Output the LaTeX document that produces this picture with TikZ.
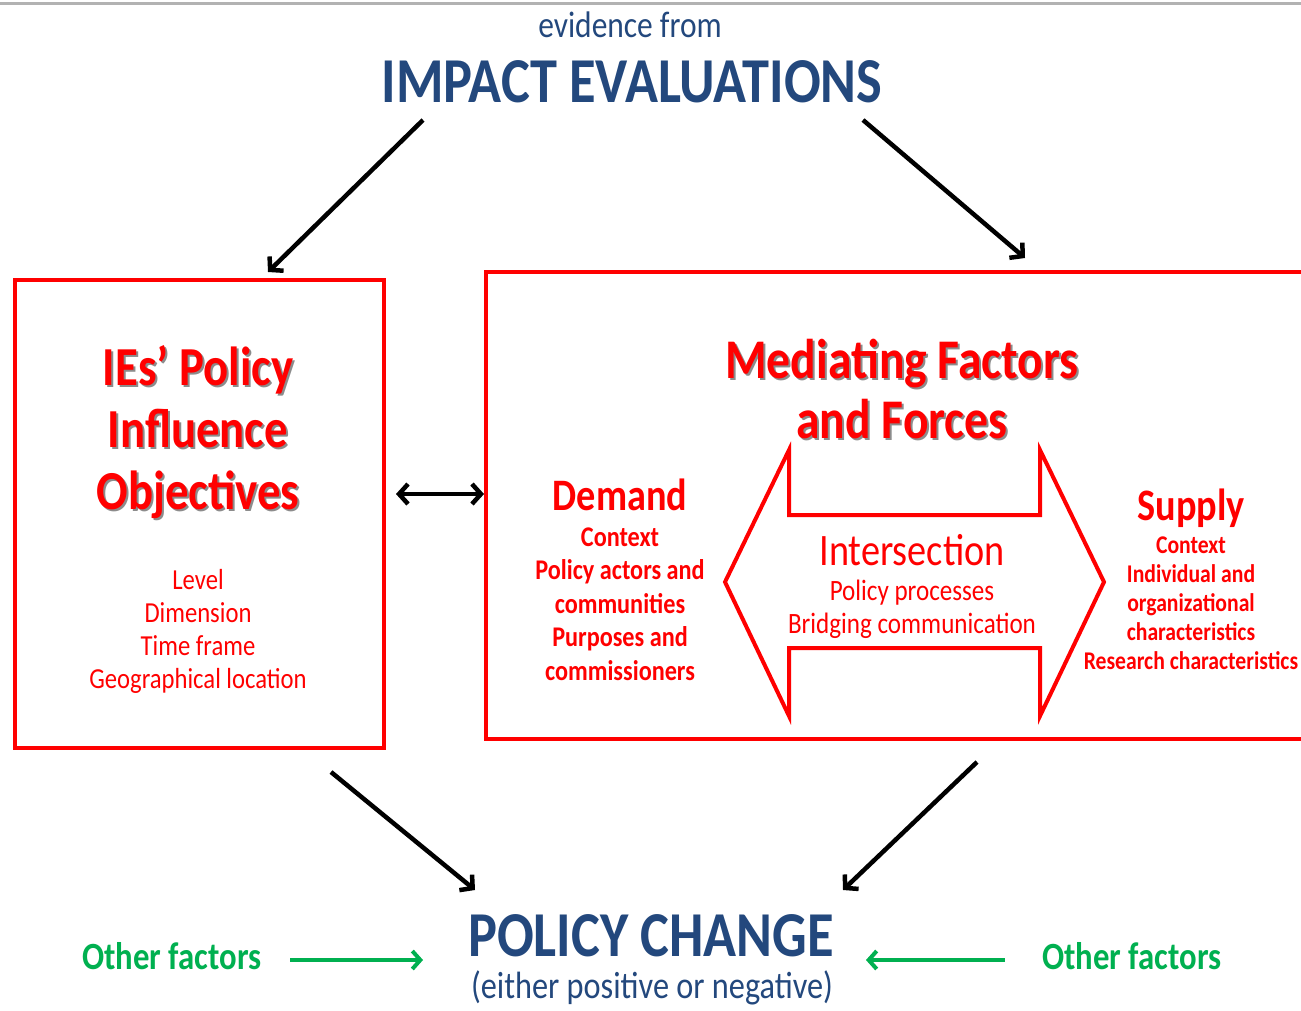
\documentclass[tikz,border=0pt]{standalone}
\usepackage{fontspec}
\setmainfont{Carlito}[FakeStretch=0.85]
\usetikzlibrary{arrows.meta}
\definecolor{ieblue}{RGB}{35,72,125}
\definecolor{iered}{RGB}{255,0,0}
\definecolor{iegreen}{RGB}{0,176,80}
\newcommand{\fsz}[2]{\fontsize{#1}{#2}\selectfont}
\tikzset{
  redbox/.style={draw=iered,line width=4pt,inner sep=0pt},
  ttl/.style={text=iered,font=\bfseries\fsz{55}{62},align=center},
  ttlshadow/.style={ttl,text=black,opacity=0.45},
  sublist/.style={text=iered,font=\fsz{29}{33},align=center},
  flow/.style={line width=4.5pt,-{Straight Barb[length=9pt,width=20pt,line width=4.5pt]}},
  other/.style={line width=4pt,iegreen,-{Straight Barb[length=8pt,width=18pt,line width=4pt]}},
}
\begin{document}
\begin{tikzpicture}[x=1pt,y=-1pt]
 \useasboundingbox (0,0) rectangle (1301,1010);
 \fill[white] (0,0) rectangle (1301,1010);
 \draw[gray!60,line width=3pt] (0,3) -- (1301,3);
 % top
 \node (evid) at (630,25) [text=ieblue,font=\fsz{37}{40}] {evidence from};
 \node (ievals) at (632,82) [text=ieblue,font=\bfseries\fsz{64}{70}] {IMPACT EVALUATIONS};
 % boxes
 \node (objbox) at (199.5,514) [redbox,minimum width=369pt,minimum height=468pt] {};
 \node (medbox) at (903,505.5) [redbox,minimum width=834pt,minimum height=467pt] {};
 % left box text
 \node (objshadow) at (200,434) [ttlshadow] {IEs’ Policy\\Influence\\Objectives};
 \node (objtitle) at (198,432) [ttl] {IEs’ Policy\\Influence\\Objectives};
 \node (objlist) at (198,631) [sublist] {Level\\Dimension\\Time frame\\Geographical location};
 % right box text
 \node (medshadow) at (904,391) [ttlshadow,font=\bfseries\fsz{56}{60}] {Mediating Factors\\and Forces};
 \node (medtitle) at (902,389) [ttl,font=\bfseries\fsz{56}{60}] {Mediating Factors\\and Forces};
 \node (demand) at (620,495) [text=iered,font=\bfseries\fsz{45}{48}] {Demand};
 \node (demlist) at (620,604) [sublist,font=\bfseries\fsz{28.5}{33.5}] {Context\\Policy actors and\\communities\\Purposes and\\commissioners};
 \node (supply) at (1191,508) [text=iered,font=\bfseries\fsz{45}{48}] {Supply};
 \node (suplist) at (1191,603) [sublist,font=\bfseries\fsz{25.5}{29}] {Context\\Individual and\\organizational\\characteristics\\Research characteristics};
 % intersection arrow
 \draw[iered,line width=4pt,line join=miter,fill=white]
   (725,582) -- (789,450) -- (789,515) -- (1040,515) -- (1040,450) -- (1104,582)
   -- (1040,716) -- (1040,648) -- (789,648) -- (789,716) -- cycle;
 \node (isect) at (912,550) [text=iered,font=\fsz{45}{48}] {Intersection};
 \node (isectlist) at (912,609) [sublist,font=\fsz{29.5}{33}] {Policy processes\\Bridging communication};
 % bottom
 \node (change) at (651,936) [text=ieblue,font=\bfseries\fsz{64}{70}] {POLICY CHANGE};
 \node (sign) at (652,988) [text=ieblue,font=\fsz{38}{40}] {(either positive or negative)};
 \node (otherL) at (172,956) [text=iegreen,font=\bfseries\fsz{38.5}{42}] {Other factors};
 \node (otherR) at (1132,956) [text=iegreen,font=\bfseries\fsz{38.5}{42}] {Other factors};
 % connectors
 \coordinate (a1) at (423,120); \coordinate (a2) at (268,272);
 \coordinate (b1) at (863,120); \coordinate (b2) at (1025,258);
 \coordinate (c1) at (331,772); \coordinate (c2) at (475,890);
 \coordinate (d1) at (977,762); \coordinate (d2) at (843,890);
 \draw[flow] (a1) -- (a2);
 \draw[flow] (b1) -- (b2);
 \draw[flow] (c1) -- (c2);
 \draw[flow] (d1) -- (d2);
 \draw[line width=4.5pt,{Straight Barb[length=9pt,width=20pt,line width=4.5pt]}-{Straight Barb[length=9pt,width=20pt,line width=4.5pt]}]
   ([xshift=10pt,yshift=20pt]objbox.east) -- (medbox.west |- 0,494);
 \draw[other] ([xshift=25pt]otherL.east |- 0,960) -- (423,960);
 \draw[other] ([xshift=-34pt]otherR.west |- 0,960) -- (866,960);
\end{tikzpicture}
\end{document}
